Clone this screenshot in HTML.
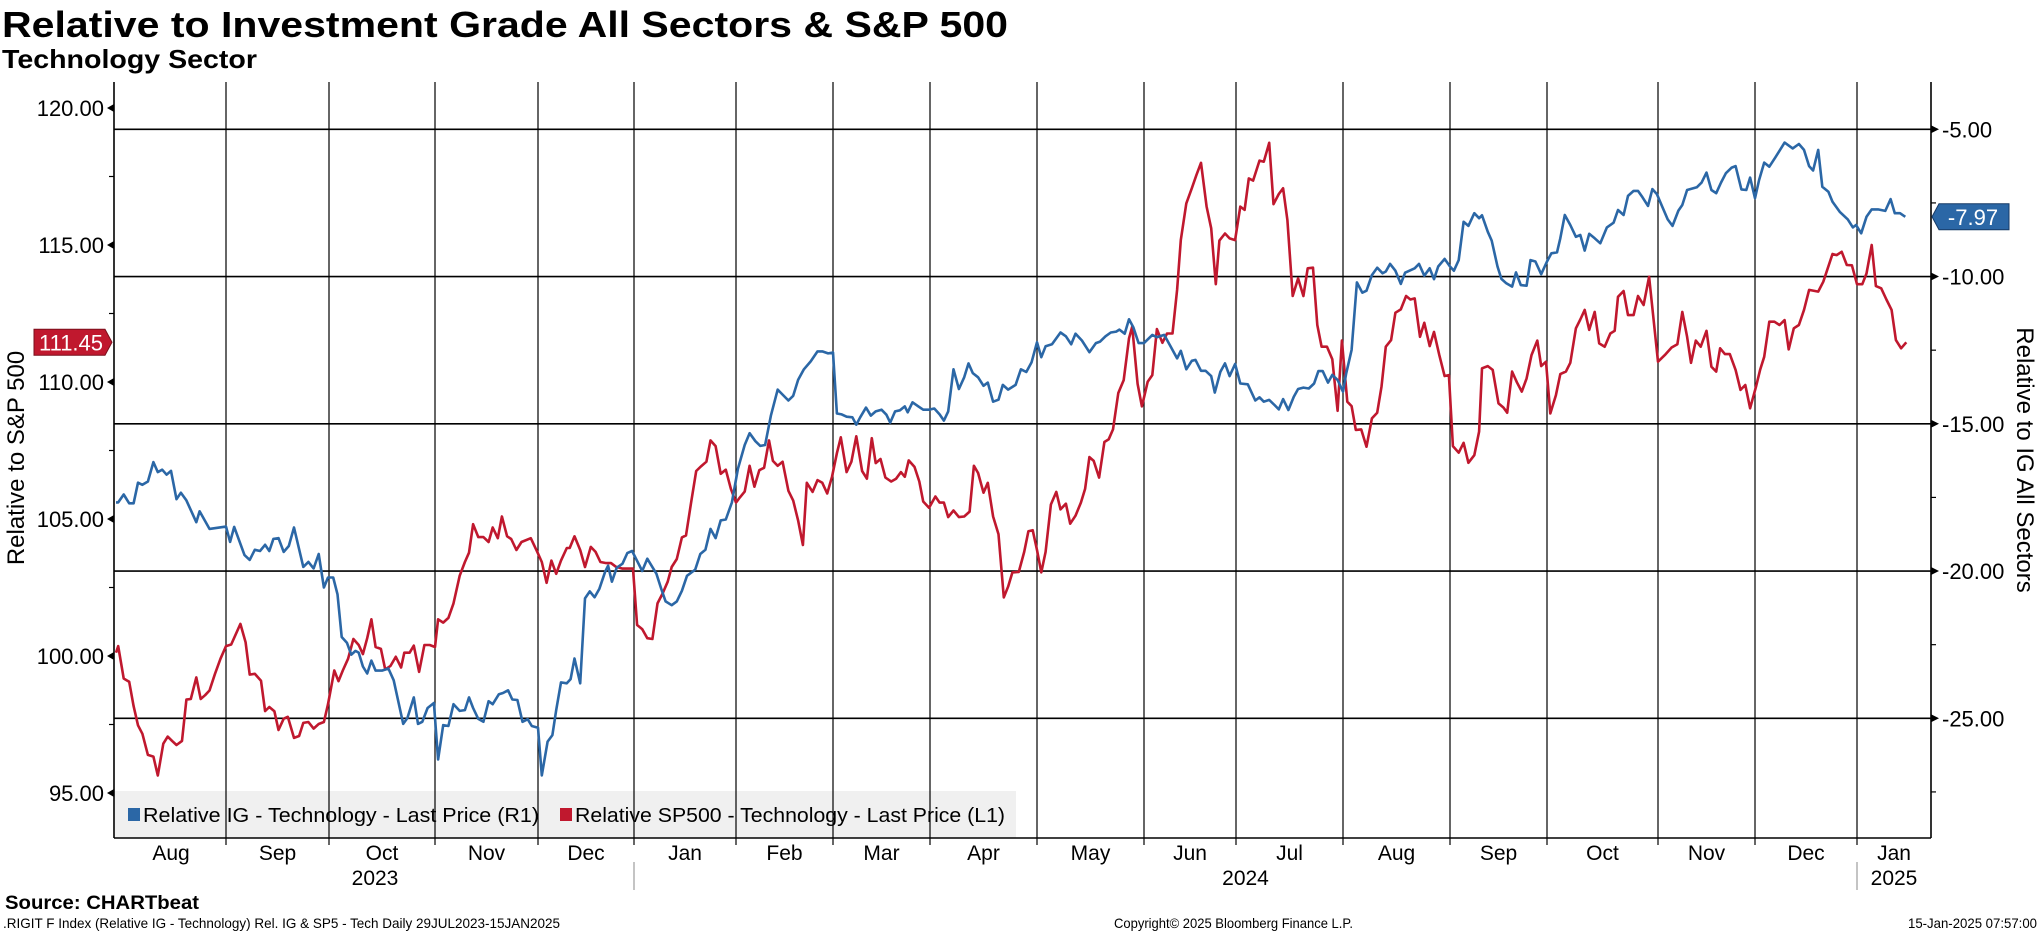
<!DOCTYPE html>
<html><head><meta charset="utf-8"><style>
html,body{margin:0;padding:0;background:#fff;}
svg{display:block;font-family:"Liberation Sans",sans-serif;}
</style></head><body>
<svg id="chart" width="2041" height="932" viewBox="0 0 2041 932" xmlns="http://www.w3.org/2000/svg">
<text x="2" y="37" font-size="36" font-weight="bold" textLength="1006" lengthAdjust="spacingAndGlyphs">Relative to Investment Grade All Sectors &amp; S&amp;P 500</text>
<text x="2" y="68" font-size="26" font-weight="bold" textLength="255" lengthAdjust="spacingAndGlyphs">Technology Sector</text>
<rect x="115" y="791" width="901" height="47" fill="#f0f0f0"/>
<g id="grid"></g>
<g id="axes"></g>
<g id="series"></g>
<g>
<rect x="128" y="808" width="12" height="13" fill="#2b67a6"/>
<text x="143" y="822" font-size="20" textLength="396" lengthAdjust="spacingAndGlyphs">Relative IG - Technology - Last Price (R1)</text>
</g>
<g>
<rect x="560" y="808" width="12" height="13" fill="#c0182e"/>
<text x="575" y="822" font-size="20" textLength="430" lengthAdjust="spacingAndGlyphs">Relative SP500 - Technology - Last Price (L1)</text>
</g>
<text transform="translate(24,458) rotate(-90)" text-anchor="middle" font-size="24">Relative to S&amp;P 500</text>
<text transform="translate(2017,460) rotate(90)" text-anchor="middle" font-size="24">Relative to IG All Sectors</text>
<text x="5" y="909" font-size="19" font-weight="bold" textLength="194" lengthAdjust="spacingAndGlyphs">Source: CHARTbeat</text>
<text x="3" y="928" font-size="14" textLength="557" lengthAdjust="spacingAndGlyphs">.RIGIT F Index (Relative IG - Technology) Rel. IG &amp; SP5 - Tech  Daily 29JUL2023-15JAN2025</text>
<text x="1114" y="928" font-size="14" textLength="239" lengthAdjust="spacingAndGlyphs">Copyright© 2025 Bloomberg Finance L.P.</text>
<text x="2037" y="928" font-size="14" text-anchor="end" textLength="129" lengthAdjust="spacingAndGlyphs">15-Jan-2025 07:57:00</text>
</svg>
<script>
const monthNames = ["Aug","Sep","Oct","Nov","Dec","Jan","Feb","Mar","Apr","May","Jun","Jul","Aug","Sep","Oct","Nov","Dec","Jan"];
const yearLabels = ["2023","2024","2025"];
const leftTicks = [120,115,110,105,100,95];
const rightTicks = [-5,-10,-15,-20,-25];
const igT = [0,.02,.07,.12,.16,.2,.24,.29,.34,.38,.42,.46,.5,.55,.59,.64,.73,.76,.85,1.0,1.04,1.08,1.18,1.23,1.28,1.33,1.38,1.42,1.46,1.51,1.56,1.61,1.66,1.75,1.80,1.85,1.90,1.95,1.99,2.04,2.08,2.12,2.17,2.21,2.25,2.28,2.32,2.36,2.40,2.44,2.5,2.56,2.61,2.70,2.74,2.80,2.84,2.88,2.93,2.99,3.03,3.08,3.13,3.18,3.24,3.29,3.33,3.37,3.42,3.47,3.52,3.56,3.62,3.66,3.71,3.75,3.80,3.85,3.90,3.94,4.0,4.04,4.10,4.15,4.19,4.24,4.30,4.34,4.38,4.44,4.49,4.54,4.59,4.64,4.70,4.73,4.77,4.82,4.88,4.93,4.98,5.08,5.13,5.22,5.27,5.31,5.37,5.42,5.47,5.52,5.60,5.65,5.70,5.75,5.80,5.85,5.9,5.96,6.02,6.09,6.14,6.20,6.25,6.30,6.36,6.43,6.48,6.54,6.59,6.64,6.70,6.77,6.84,6.89,6.95,7.0,7.04,7.09,7.14,7.2,7.24,7.28,7.34,7.39,7.44,7.5,7.55,7.59,7.64,7.69,7.74,7.77,7.82,7.88,7.93,7.99,8.04,8.09,8.13,8.17,8.22,8.27,8.32,8.36,8.4,8.45,8.5,8.54,8.59,8.64,8.68,8.73,8.80,8.85,8.90,8.95,9.0,9.04,9.08,9.14,9.22,9.27,9.32,9.36,9.42,9.49,9.55,9.59,9.64,9.69,9.74,9.77,9.82,9.86,9.9,9.95,10.0,10.09,10.14,10.22,10.29,10.36,10.40,10.46,10.52,10.56,10.62,10.67,10.73,10.77,10.83,10.88,10.93,10.99,11.04,11.11,11.18,11.22,11.26,11.31,11.36,11.40,11.44,11.49,11.54,11.58,11.63,11.68,11.73,11.77,11.81,11.86,11.90,11.95,12.0,12.03,12.08,12.13,12.18,12.22,12.27,12.32,12.37,12.40,12.44,12.49,12.54,12.58,12.67,12.71,12.76,12.81,12.85,12.89,12.95,13.0,13.04,13.09,13.14,13.19,13.25,13.30,13.33,13.39,13.43,13.49,13.53,13.58,13.64,13.68,13.73,13.79,13.83,13.88,13.94,14.0,14.04,14.09,14.12,14.16,14.21,14.26,14.30,14.34,14.38,14.43,14.48,14.54,14.60,14.64,14.69,14.73,14.78,14.82,14.86,14.91,14.95,14.99,15.04,15.10,15.15,15.21,15.25,15.30,15.40,15.45,15.50,15.55,15.60,15.65,15.70,15.76,15.80,15.86,15.91,15.95,16.0,16.04,16.09,16.14,16.20,16.29,16.37,16.43,16.48,16.53,16.57,16.62,16.66,16.72,16.76,16.83,16.91,16.96,16.99,17.04,17.09,17.14,17.20,17.27,17.32,17.36,17.41,17.46];
const igV = [-17.67,-17.67,-17.40,-17.70,-17.70,-17.0,-17.07,-16.96,-16.30,-16.64,-16.56,-16.73,-16.6,-17.56,-17.34,-17.60,-18.34,-17.97,-18.57,-18.49,-19.01,-18.50,-19.46,-19.62,-19.28,-19.32,-19.11,-19.32,-18.91,-18.88,-19.35,-19.15,-18.52,-19.86,-19.69,-19.91,-19.42,-20.56,-20.22,-20.22,-20.79,-22.24,-22.44,-22.84,-22.71,-22.77,-23.24,-23.48,-23.04,-23.38,-23.38,-23.31,-23.71,-25.19,-24.99,-24.29,-25.19,-25.12,-24.65,-24.48,-26.40,-25.23,-25.26,-24.52,-24.75,-24.72,-24.29,-24.65,-25.02,-25.12,-24.42,-24.52,-24.18,-24.14,-24.05,-24.36,-24.38,-25.12,-25.03,-25.26,-25.32,-26.94,-25.79,-25.57,-24.72,-23.78,-23.81,-23.67,-22.97,-23.81,-20.93,-20.69,-20.89,-20.60,-20.02,-19.82,-20.36,-19.89,-19.75,-19.39,-19.32,-20.0,-19.58,-20.09,-20.63,-21.03,-21.16,-21.03,-20.67,-20.16,-19.95,-19.42,-19.28,-18.57,-18.88,-18.28,-18.25,-17.67,-16.53,-15.72,-15.32,-15.59,-15.75,-15.72,-14.72,-13.84,-14.01,-14.21,-14.05,-13.51,-13.15,-12.88,-12.54,-12.54,-12.61,-12.58,-14.65,-14.68,-14.76,-14.78,-15.03,-14.78,-14.45,-14.72,-14.58,-14.52,-14.69,-14.96,-14.58,-14.54,-14.41,-14.61,-14.27,-14.41,-14.52,-14.52,-14.48,-14.68,-14.89,-14.58,-13.15,-13.82,-13.42,-12.95,-13.28,-13.42,-13.71,-13.60,-14.25,-14.18,-13.68,-13.84,-13.68,-13.15,-13.24,-12.91,-12.23,-12.74,-12.37,-12.30,-11.90,-12.03,-12.30,-11.94,-12.17,-12.57,-12.26,-12.21,-12.03,-11.90,-11.87,-11.80,-11.94,-11.45,-11.72,-12.26,-12.26,-11.98,-12.06,-11.98,-12.38,-12.78,-12.52,-13.15,-12.86,-12.83,-13.20,-13.20,-13.38,-13.94,-13.23,-12.95,-13.38,-12.97,-13.63,-13.66,-14.21,-14.10,-14.25,-14.19,-14.36,-14.51,-14.16,-14.53,-14.08,-13.82,-13.77,-13.80,-13.63,-13.21,-13.21,-13.60,-13.34,-13.51,-13.91,-13.29,-12.49,-10.20,-10.55,-10.48,-9.95,-9.70,-9.89,-9.83,-9.57,-9.80,-10.25,-9.87,-9.72,-9.57,-9.97,-9.72,-10.09,-9.66,-9.40,-9.66,-9.80,-9.44,-8.14,-8.28,-7.85,-8.02,-7.92,-8.48,-8.78,-9.66,-10.08,-10.23,-10.34,-9.86,-10.29,-10.31,-9.44,-9.49,-9.92,-9.49,-9.21,-9.18,-8.70,-7.91,-8.25,-8.65,-8.59,-9.12,-8.55,-8.70,-8.87,-8.33,-8.17,-7.74,-7.91,-7.26,-7.09,-7.09,-7.31,-7.60,-7.03,-7.20,-7.60,-8.06,-8.28,-7.76,-7.57,-7.06,-6.97,-6.81,-6.47,-7.06,-7.17,-6.81,-6.49,-6.30,-6.25,-7.04,-7.06,-6.64,-7.34,-6.72,-6.13,-6.27,-5.95,-5.45,-5.65,-5.50,-5.70,-6.25,-6.40,-5.70,-6.95,-7.12,-7.46,-7.80,-8.06,-8.33,-8.25,-8.53,-7.97,-7.72,-7.72,-7.77,-7.37,-7.85,-7.85,-7.97];
const spT = [0,.02,.07,.12,.16,.20,.24,.29,.34,.38,.43,.47,.51,.55,.60,.64,.68,.73,.77,.81,.85,.90,.95,1.0,1.05,1.14,1.19,1.23,1.28,1.34,1.38,1.42,1.47,1.51,1.56,1.60,1.66,1.71,1.75,1.80,1.85,1.90,1.95,1.99,2.05,2.09,2.13,2.18,2.23,2.28,2.32,2.36,2.40,2.44,2.49,2.53,2.58,2.63,2.68,2.71,2.76,2.80,2.85,2.90,2.95,3.0,3.03,3.08,3.13,3.18,3.24,3.29,3.33,3.37,3.42,3.47,3.52,3.56,3.61,3.65,3.70,3.74,3.79,3.84,3.93,3.99,4.04,4.09,4.14,4.19,4.24,4.30,4.33,4.38,4.44,4.49,4.55,4.60,4.65,4.71,4.76,4.81,4.88,4.99,5.03,5.08,5.13,5.18,5.23,5.28,5.33,5.37,5.42,5.47,5.51,5.56,5.61,5.66,5.71,5.75,5.80,5.85,5.90,5.95,6.0,6.04,6.09,6.14,6.19,6.24,6.29,6.34,6.38,6.43,6.48,6.54,6.59,6.64,6.69,6.73,6.79,6.84,6.89,6.94,6.99,7.04,7.08,7.14,7.19,7.24,7.30,7.35,7.40,7.44,7.49,7.54,7.60,7.65,7.70,7.74,7.78,7.84,7.89,7.93,7.99,8.05,8.09,8.13,8.17,8.22,8.27,8.32,8.37,8.41,8.45,8.50,8.54,8.59,8.64,8.69,8.73,8.77,8.83,8.88,8.92,8.96,9.0,9.04,9.08,9.13,9.18,9.22,9.27,9.31,9.36,9.41,9.45,9.49,9.53,9.58,9.63,9.67,9.71,9.76,9.81,9.86,9.89,9.94,9.98,10.04,10.09,10.14,10.20,10.25,10.31,10.36,10.40,10.46,10.52,10.57,10.62,10.68,10.73,10.78,10.82,10.88,10.93,10.99,11.04,11.08,11.12,11.16,11.22,11.26,11.31,11.35,11.40,11.44,11.48,11.53,11.58,11.63,11.67,11.72,11.76,11.80,11.85,11.90,11.95,11.99,12.04,12.08,12.12,12.17,12.22,12.27,12.32,12.36,12.40,12.45,12.49,12.54,12.59,12.63,12.67,12.72,12.76,12.81,12.85,12.90,12.95,12.99,13.03,13.09,13.14,13.19,13.25,13.30,13.33,13.39,13.44,13.50,13.55,13.59,13.64,13.69,13.74,13.79,13.84,13.90,13.94,13.99,14.03,14.08,14.12,14.17,14.21,14.26,14.30,14.34,14.38,14.43,14.47,14.52,14.57,14.61,14.64,14.69,14.73,14.78,14.82,14.87,14.92,15.0,15.07,15.14,15.20,15.25,15.30,15.34,15.39,15.44,15.50,15.55,15.60,15.64,15.69,15.74,15.80,15.85,15.90,15.95,16.01,16.05,16.09,16.14,16.19,16.24,16.29,16.33,16.38,16.43,16.48,16.53,16.62,16.67,16.76,16.80,16.85,16.90,16.95,17.0,17.05,17.09,17.14,17.18,17.23,17.28,17.33,17.37,17.42,17.47];
const spV = [100.12,100.36,99.18,99.06,98.17,97.47,97.16,96.39,96.33,95.64,96.80,97.06,96.90,96.75,96.90,98.41,98.43,99.22,98.43,98.57,98.74,99.35,99.90,100.36,100.42,101.17,100.50,99.32,99.35,99.10,97.99,98.14,97.98,97.30,97.71,97.78,97.01,97.08,97.56,97.59,97.35,97.52,97.59,98.24,99.47,99.08,99.47,99.90,100.62,100.40,100.07,100.65,101.34,100.33,100.26,99.51,99.64,99.97,99.58,100.12,100.12,100.38,99.42,100.40,100.40,100.33,101.34,101.22,101.39,101.92,102.93,103.43,103.77,104.81,104.34,104.34,104.16,104.69,104.30,105.09,104.37,104.27,103.87,104.16,104.30,103.82,103.43,102.67,103.48,103.00,103.48,103.94,103.94,104.37,103.87,103.25,103.98,103.80,103.43,103.39,103.39,103.26,103.19,103.19,101.13,100.98,100.65,100.62,101.92,102.28,102.71,103.25,103.54,104.33,104.40,105.60,106.75,106.93,107.09,107.87,107.66,106.65,106.80,106.10,105.60,105.79,106.00,106.94,106.18,106.78,106.87,107.87,107.12,106.94,107.09,106.03,105.67,104.95,104.05,106.32,105.99,106.42,106.32,105.93,106.54,107.40,107.98,106.71,107.09,108.02,106.75,106.47,107.95,107.04,107.19,106.51,106.37,106.47,106.71,106.54,107.14,106.90,106.37,105.64,105.41,105.82,105.60,105.60,105.07,105.31,105.07,105.09,105.27,106.94,106.68,105.96,106.32,105.09,104.44,102.14,102.53,103.05,103.07,103.80,104.55,104.59,103.87,103.05,103.80,105.53,105.99,105.35,105.56,104.83,105.12,105.60,106.10,107.26,107.12,106.51,107.81,107.91,108.27,109.60,110.07,111.59,112.02,109.93,109.11,110.01,110.25,111.93,111.43,111.77,111.77,113.36,115.18,116.52,117.07,117.55,118.00,116.40,115.61,113.57,115.16,115.42,115.24,115.18,116.40,116.28,117.43,117.35,118.08,118.04,118.73,116.49,116.86,117.07,115.91,113.14,113.78,113.14,114.15,114.17,112.08,111.29,111.29,110.83,108.95,111.51,109.28,109.12,108.25,108.27,107.64,108.67,108.88,109.83,111.29,111.53,112.53,112.65,113.14,113.01,113.05,111.65,112.16,111.31,111.83,110.98,110.22,110.25,107.66,107.42,107.78,107.05,107.33,108.19,110.50,110.58,110.44,109.22,109.07,108.88,110.38,109.99,109.65,110.13,110.98,111.51,110.58,110.74,108.85,109.52,110.29,110.38,110.70,111.96,112.28,112.63,111.90,112.56,111.41,111.29,111.77,111.87,113.11,113.32,112.44,112.44,113.14,112.81,113.84,110.74,110.98,111.26,111.38,112.56,111.65,110.70,111.51,111.29,111.87,110.56,110.38,111.23,111.02,111.02,110.44,109.71,109.89,109.04,109.83,110.44,110.92,112.20,112.20,112.08,112.26,111.19,111.96,112.08,112.63,113.36,113.30,113.66,114.67,114.63,114.75,114.27,114.26,113.57,113.57,113.96,115.0,113.50,113.42,113.01,112.63,111.53,111.23,111.45];

const NS = "http://www.w3.org/2000/svg";
const PL = 114, PR = 1931, PT = 82, PB = 838;
// month-start gridline pixel anchors (layout)
const monthX = [116,226,329,435,538,634,736,833,930,1037,1144,1236,1343,1450,1547,1658,1755,1857,1962];
function xScale(t){
  const i = Math.max(0, Math.min(monthX.length-2, Math.floor(t)));
  return monthX[i] + (t - i) * (monthX[i+1] - monthX[i]);
}
function yLeft(v){ return 108 + (120 - v) * 27.4; }
function yRight(v){ return 129.3 + (-5 - v) * 29.45; }
function mk(tag, attrs, parent){
  const e = document.createElementNS(NS, tag);
  for (const k in attrs) e.setAttribute(k, attrs[k]);
  parent.appendChild(e);
  return e;
}
const grid = document.getElementById('grid');
const axes = document.getElementById('axes');
const series = document.getElementById('series');

// horizontal grid from right axis ticks
rightTicks.forEach(v => {
  const y = yRight(v);
  const l = mk('line', {x1:PL, x2:PR, y1:y, y2:y, stroke:'#000', 'stroke-width':1.6}, grid);
  
  
  const tk = mk('path', {d:`M${PR} ${y-4} L${PR+8} ${y} L${PR} ${y+4} Z`, fill:'#000'}, axes);
  
  
  const tx = mk('text', {x:PR+11, y:y+8, 'font-size':22}, axes);
  tx.textContent = v.toFixed(2);
  
  
  const my = yRight(v - 2.5);
  if (my < PB) {
    const m = mk('line', {x1:PR, x2:PR+5, y1:my, y2:my, stroke:'#000', 'stroke-width':1.2}, axes);
    
    
  }
});
// vertical gridlines (month starts)
for (let i = 1; i < monthNames.length; i++) {
  const x = monthX[i];
  const l = mk('line', {x1:x, x2:x, y1:PT, y2:PB+7, stroke:'#000', 'stroke-width':1.2}, grid);
  
  
}
// axis lines
[[PL,PT,PL,PB],[PR,PT,PR,PB],[PL,PB,PR,PB]].forEach(a => {
  const l = mk('line', {x1:a[0], y1:a[1], x2:a[2], y2:a[3], stroke:'#000', 'stroke-width':1.6}, axes);
  
  
});
// left ticks
leftTicks.forEach(v => {
  const y = yLeft(v);
  const tk = mk('path', {d:`M${PL} ${y-4} L${PL-7} ${y} L${PL} ${y+4} Z`, fill:'#000'}, axes);
  
  
  const tx = mk('text', {x:PL-10, y:y+8, 'font-size':22, 'text-anchor':'end'}, axes);
  tx.textContent = v.toFixed(2);
  
  
  const my = yLeft(v - 2.5);
  if (my < PB - 5) {
    const m = mk('line', {x1:PL-5, x2:PL, y1:my, y2:my, stroke:'#000', 'stroke-width':1.2}, axes);
    
    
  }
});
// month labels
monthNames.forEach((n, i) => {
  const x1 = monthX[i], x2 = (i === monthNames.length-1) ? PR : monthX[i+1];
  const tx = mk('text', {x:(x1+x2)/2, y:860, 'font-size':21, 'text-anchor':'middle'}, axes);
  tx.textContent = n;
  
  
});
// year labels and dividers
const yearCenters = [(monthX[0]+monthX[5])/2, (monthX[5]+monthX[17])/2, (monthX[17]+PR)/2];
yearLabels.forEach((y, i) => {
  const tx = mk('text', {x:yearCenters[i], y:885, 'font-size':21, 'text-anchor':'middle'}, axes);
  tx.textContent = y;
  
  
});
[monthX[5], monthX[17]].forEach(x => {
  const l = mk('line', {x1:x, x2:x, y1:862, y2:890, stroke:'#888', 'stroke-width':1}, axes);
  
  
});
// series
function pathOf(T, V, ys){
  return T.map((t, i) => (i ? 'L' : 'M') + xScale(t).toFixed(1) + ' ' + ys(V[i]).toFixed(1)).join(' ');
}
const red = mk('path', {d:pathOf(spT, spV, yLeft), fill:'none', stroke:'#c0182e', 'stroke-width':2.6, 'stroke-linejoin':'round'}, series);


const blue = mk('path', {d:pathOf(igT, igV, yRight), fill:'none', stroke:'#2b67a6', 'stroke-width':2.6, 'stroke-linejoin':'round'}, series);


// last value tags
const lastSP = spV[spV.length-1], lastIG = igV[igV.length-1];
const ry = yLeft(lastSP);
const rtag = mk('path', {d:`M34 ${ry-13} L105 ${ry-13} L112 ${ry} L105 ${ry+13} L34 ${ry+13} Z`, fill:'#c0182e', stroke:'#7a0f1c', 'stroke-width':1}, axes);


const rtx = mk('text', {x:71, y:ry+8, 'font-size':22, fill:'#fff', 'text-anchor':'middle'}, axes);
rtx.textContent = lastSP.toFixed(2);


const by = yRight(lastIG);
const btag = mk('path', {d:`M1932 ${by} L1939 ${by-13} L2009 ${by-13} L2009 ${by+13} L1939 ${by+13} Z`, fill:'#2b67a6', stroke:'#163a66', 'stroke-width':1}, axes);


const btx = mk('text', {x:1973, y:by+8, 'font-size':22, fill:'#fff', 'text-anchor':'middle'}, axes);
btx.textContent = lastIG.toFixed(2);


</script>
</body></html>
